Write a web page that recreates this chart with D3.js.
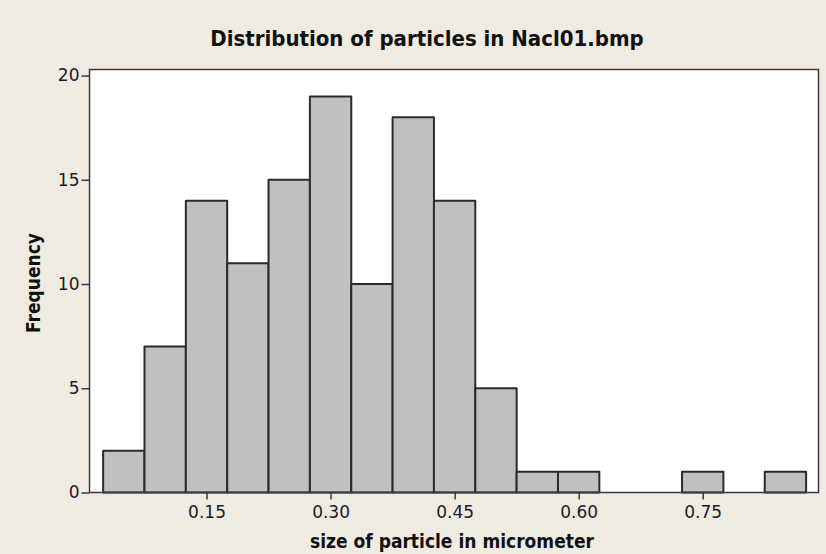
<!DOCTYPE html>
<html>
<head>
<meta charset="utf-8">
<script src="https://cdn.jsdelivr.net/npm/d3@7"></script>
<style>
  html, body { margin: 0; padding: 0; background: #EFEBE1; }
  svg { display: block; }
</style>
</head>
<body>
<script>
// Histogram bins: bin centres (micrometer) and counts
const binCenters = [0.05, 0.10, 0.15, 0.20, 0.25, 0.30, 0.35, 0.40, 0.45, 0.50, 0.55, 0.60, 0.65, 0.70, 0.75, 0.80, 0.85];
const frequencies = [2, 7, 14, 11, 15, 19, 10, 18, 14, 5, 1, 1, 0, 0, 1, 0, 1];
const binWidth = 0.05;
const xTickValues = [0.15, 0.30, 0.45, 0.60, 0.75];
const yTickValues = [0, 5, 10, 15, 20];
const titleText = "Distribution of particles in Nacl01.bmp";
const xLabelText = "size of particle in micrometer";
const yLabelText = "Frequency";

const W = 826, H = 554;
const plot = { left: 89.5, right: 818.5, top: 69.5, bottom: 492.5 };

const svg = d3.select("body").append("svg")
  .attr("width", W).attr("height", H);

svg.append("rect").attr("width", W).attr("height", H).attr("fill", "#EFEBE1");

const x = d3.scaleLinear().domain([0.0085, 0.8900]).range([plot.left, plot.right]);
const y = d3.scaleLinear().domain([0, 20.29]).range([plot.bottom, plot.top]);

// plot area
svg.append("rect")
  .attr("x", plot.left).attr("y", plot.top)
  .attr("width", plot.right - plot.left).attr("height", plot.bottom - plot.top)
  .attr("fill", "#ffffff");

// bars
const bins = binCenters.map((c, i) => ({ c, f: frequencies[i] }));
svg.append("g").selectAll("rect").data(bins).join("rect")
  .attr("x", d => x(d.c - binWidth / 2))
  .attr("y", d => y(d.f))
  .attr("width", d => x(d.c + binWidth / 2) - x(d.c - binWidth / 2))
  .attr("height", d => y(0) - y(d.f))
  .attr("fill", "#C0C0C0")
  .attr("stroke", "#2b2b2b")
  .attr("stroke-width", 2)
  .attr("stroke-linejoin", "round");

// frame
svg.append("rect")
  .attr("x", plot.left).attr("y", plot.top)
  .attr("width", plot.right - plot.left).attr("height", plot.bottom - plot.top)
  .attr("fill", "none").attr("stroke", "#3a3a3a").attr("stroke-width", 1.5);

const tickFont = "'DejaVu Sans', Verdana, sans-serif";
const labelFont = "'DejaVu Sans Condensed', 'DejaVu Sans', sans-serif";

// x axis
const xAxis = svg.append("g")
  .attr("transform", `translate(0,${plot.bottom})`)
  .call(d3.axisBottom(x).tickValues(xTickValues).tickFormat(d3.format(".2f")).tickSize(7).tickPadding(6));
xAxis.select(".domain").remove();
xAxis.selectAll(".tick line").attr("stroke", "#3a3a3a").attr("stroke-width", 1.5);
xAxis.selectAll("text").attr("fill", "#1a1a2a").style("font-family", tickFont).style("font-size", "17px");

// y axis
const yAxis = svg.append("g")
  .attr("transform", `translate(${plot.left},0)`)
  .call(d3.axisLeft(y).tickValues(yTickValues).tickSize(8).tickPadding(2));
yAxis.select(".domain").remove();
yAxis.selectAll(".tick line").attr("stroke", "#3a3a3a").attr("stroke-width", 1.5);
yAxis.selectAll("text").attr("fill", "#1a1a2a").style("font-family", tickFont).style("font-size", "17px");

// title
svg.append("text")
  .attr("x", 427).attr("y", 46)
  .attr("text-anchor", "middle")
  .style("font-family", labelFont)
  .style("font-weight", "bold")
  .style("font-size", "22px")
  .attr("fill", "#111")
  .text(titleText);

// x label
svg.append("text")
  .attr("x", 452).attr("y", 548)
  .attr("text-anchor", "middle")
  .style("font-family", labelFont)
  .style("font-weight", "bold")
  .style("font-size", "19px")
  .attr("fill", "#111")
  .text(xLabelText);

// y label
svg.append("text")
  .attr("transform", "translate(40,283) rotate(-90)")
  .attr("text-anchor", "middle")
  .style("font-family", labelFont)
  .style("font-weight", "bold")
  .style("font-size", "19px")
  .attr("fill", "#111")
  .text(yLabelText);
</script>
</body>
</html>
